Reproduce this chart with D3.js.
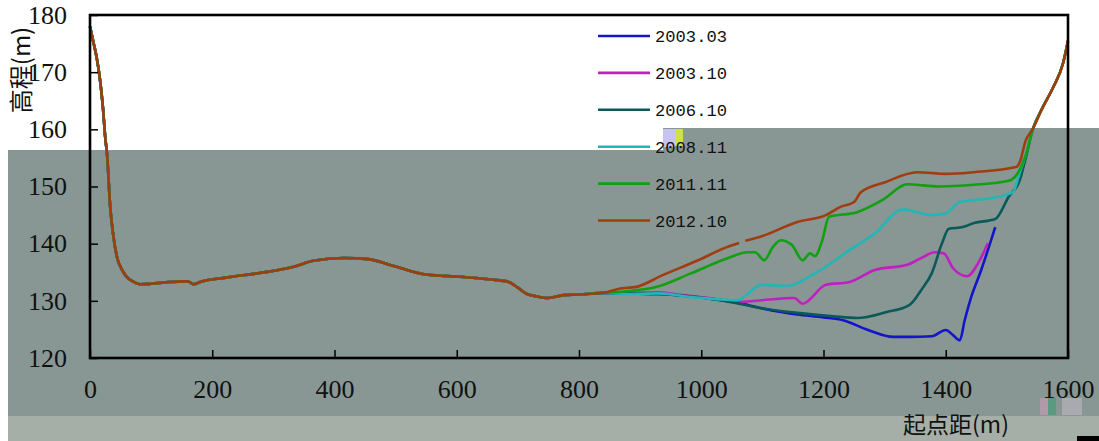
<!DOCTYPE html>
<html>
<head>
<meta charset="utf-8">
<script src="https://cdn.jsdelivr.net/npm/d3@7"></script>
<style>
  body { margin: 0; background: #fff; }
  svg { display: block; }
</style>
</head>
<body>
<div id="chart"></div>
<script>
// Cross-section profile data (x = distance from start, y = elevation)
var bankLeft = [[0,178],[4,176],[11,172.5],[16,169],[21,164],[25,158.5],[28,155.5],[33,146.5],[38,141.5],
    [44,137.7],[52,135.5],[60,134.2],[70,133.4],[82,132.9],[100,133],[130,133.3],[160,133.4],[170,132.9],
    [180,133.3],[225,134.1],[280,134.9],[335,136],[365,137],[415,137.5],[455,137.3],[500,136],[550,134.6],
    [605,134.2],[660,133.7],[685,133.3],[700,132.3],[715,131.2],[730,130.8],[750,130.5],[775,131],[800,131.1],[840,131.4]];

var bankRight = [[1543,160.2],[1558,163.7],[1576,167.4],[1592,171.6],[1600,175.5]];

var s200303 = [[880,131.3],[930,131.2],[980,130.8],[1020,130.3],[1058,129.7],[1099,128.7],[1157,127.6],[1200,127.1],
    [1232,126.6],[1273,124.9],[1314,123.7],[1341,123.7],[1377,123.8],[1400,124.9],[1412,124],[1423,123.1],
    [1431,126.6],[1440,130.1],[1458,135.4],[1481,142.9]];

var s200310 = [[880,131.4],[930,131.5],[970,131],[1013,130.5],[1058,129.8],[1099,130.1],[1152,130.5],[1166,129.5],
    [1204,132.8],[1243,133.3],[1284,135.4],[1337,136.3],[1360,137.5],[1382,138.5],[1397,138.3],[1412,135.7],
    [1435,134.3],[1453,136.6],[1469,140.1]];

var s200610 = [[880,131.3],[930,131.2],[980,130.8],[1020,130.3],[1058,129.6],[1099,128.7],[1157,127.9],[1216,127.3],
    [1255,127],[1302,128],[1341,129.3],[1360,131.9],[1377,134.8],[1394,140.1],[1405,142.6],[1428,142.9],
    [1446,143.6],[1481,144.3],[1503,148.2],[1521,151.1],[1530,154.6]];

var s200811 = [[880,131.2],[930,131.3],[980,130.7],[1024,130.3],[1058,130.1],[1099,132.8],[1140,132.6],[1186,134.8],
    [1243,138.9],[1284,141.8],[1330,146],[1377,145],[1400,145.3],[1423,147.3],[1476,148],[1510,149],
    [1521,152.4],[1530,155.2]];

var s201111 = [[870,131.6],[926,132.4],[983,134.8],[1042,137.4],[1076,138.5],[1088,138.5],[1103,137.1],[1117,139.4],
    [1130,140.6],[1148,139.8],[1166,137.1],[1178,138.3],[1186,137.8],[1198,140.6],[1209,144.7],[1255,145.5],
    [1296,147.6],[1337,150.4],[1389,150],[1446,150.3],[1503,151],[1521,152.9],[1530,155.2]];

var s201210 = [[870,132.2],[892,132.4],[937,134.5],[995,137.1],[1042,139.4],[1062,140.1],null,[1072,140.5],
    [1099,141.3],[1157,143.8],[1204,145],[1227,146.4],[1250,147.3],[1261,149],[1302,150.8],[1353,152.5],
    [1400,152.2],[1446,152.5],[1515,153.4],[1522,154.5],[1530,157.8]];

var seriesNames = ["2003.03", "2003.10", "2006.10", "2008.11", "2011.11", "2012.10"];
var seriesValues = [s200303, s200310, s200610, s200811, s201111, s201210];
var seriesColors = ["#1414c8", "#c020c0", "#0a5a5a", "#22b6b6", "#10a010", "#a03c10"];

var xTicks = [0, 200, 400, 600, 800, 1000, 1200, 1400, 1600];
var yTicks = [120, 130, 140, 150, 160, 170, 180];

var W = 1099, H = 441;

var svg = d3.select("#chart").append("svg")
    .attr("width", W)
    .attr("height", H);

// the grey wash over the lower part of the picture
svg.append("rect").attr("x", 8).attr("y", 150).attr("width", W - 8).attr("height", 266).attr("fill", "#889794");
svg.append("rect").attr("x", 663).attr("y", 128).attr("width", W - 663).attr("height", 23).attr("fill", "#889794");
svg.append("rect").attr("x", 8).attr("y", 416).attr("width", W - 8).attr("height", H - 416).attr("fill", "#a5afa7");
// little scan specks
svg.append("rect").attr("x", 663).attr("y", 129).attr("width", 12).attr("height", 18).attr("fill", "#c6c2f2");
svg.append("rect").attr("x", 675).attr("y", 129).attr("width", 8).attr("height", 17).attr("fill", "#cfe04e");
svg.append("rect").attr("x", 1040).attr("y", 398).attr("width", 8).attr("height", 17).attr("fill", "#b09aa8");
svg.append("rect").attr("x", 1048).attr("y", 398).attr("width", 8).attr("height", 17).attr("fill", "#5a9a80");
svg.append("rect").attr("x", 1062).attr("y", 398).attr("width", 20).attr("height", 17).attr("fill", "#a8aab0");
svg.append("rect").attr("x", 1077).attr("y", 436).attr("width", W - 1077).attr("height", 5).attr("fill", "#000");

var x = d3.scaleLinear().domain([0, 1600]).range([90, 1068]),
    y = d3.scaleLinear().domain([120, 180]).range([358, 15]);

var line = d3.line()
    .defined(function (d) { return d !== null; })
    .x(function (d) { return x(d[0]); })
    .y(function (d) { return y(d[1]); })
    .curve(d3.curveMonotoneX);

// each profile = shared left bank + its own channel part + shared right bank
svg.append("g")
    .selectAll("path")
    .data(seriesValues)
    .enter()
    .append("path")
    .attr("d", function (d, i) {
        var pts = bankLeft.concat(d);
        if (i >= 2) pts = pts.concat(bankRight);
        return line(pts);
    })
    .attr("fill", "none")
    .attr("stroke", function (d, i) { return seriesColors[i]; })
    .attr("stroke-width", 2.6)
    .attr("stroke-linejoin", "round");

// axes with ticks pointing inward
var xAxis = svg.append("g")
    .attr("transform", "translate(0,358)")
    .call(d3.axisBottom(x).tickValues(xTicks).tickFormat(d3.format("d"))
        .tickSizeInner(-8).tickSizeOuter(0).tickPadding(22));

var yAxis = svg.append("g")
    .attr("transform", "translate(90,0)")
    .call(d3.axisLeft(y).tickValues(yTicks).tickFormat(d3.format("d"))
        .tickSizeInner(-8).tickSizeOuter(0).tickPadding(23));

[xAxis, yAxis].forEach(function (a) {
    a.select(".domain").remove();
    a.selectAll("line").attr("stroke", "#000").attr("stroke-width", 1.5);
    a.selectAll("text")
        .attr("fill", "#111")
        .style("font-family", "Liberation Serif, serif")
        .style("font-size", "26px");
});

// plot frame
svg.append("rect")
    .attr("x", 90).attr("y", 15)
    .attr("width", 978).attr("height", 343)
    .attr("fill", "none")
    .attr("stroke", "#000")
    .attr("stroke-width", 2.6);

// axis titles
svg.append("text")
    .attr("transform", "translate(30,70) rotate(-90)")
    .attr("text-anchor", "middle")
    .style("font-family", "Noto Sans CJK SC")
    .style("font-size", "24px")
    .attr("fill", "#111")
    .text("高程(m)");

svg.append("text")
    .attr("x", 956).attr("y", 433)
    .attr("text-anchor", "middle")
    .style("font-family", "Noto Sans CJK SC")
    .style("font-size", "23px")
    .attr("fill", "#111")
    .text("起点距(m)");

// legend
var legend = svg.append("g")
    .selectAll("g")
    .data(seriesNames)
    .enter()
    .append("g")
    .attr("transform", function (d, i) { return "translate(598," + (36 + i * 36.9) + ")"; });

legend.append("line")
    .attr("x1", 0).attr("x2", 52)
    .attr("stroke", function (d, i) { return seriesColors[i]; })
    .attr("stroke-width", 2.6);

legend.append("text")
    .attr("x", 57).attr("dy", "0.36em")
    .attr("textLength", 72)
    .attr("lengthAdjust", "spacingAndGlyphs")
    .style("font-family", "Liberation Mono, monospace")
    .style("font-size", "17px")
    .attr("fill", "#111")
    .text(function (d) { return d; });
</script>
</body>
</html>
